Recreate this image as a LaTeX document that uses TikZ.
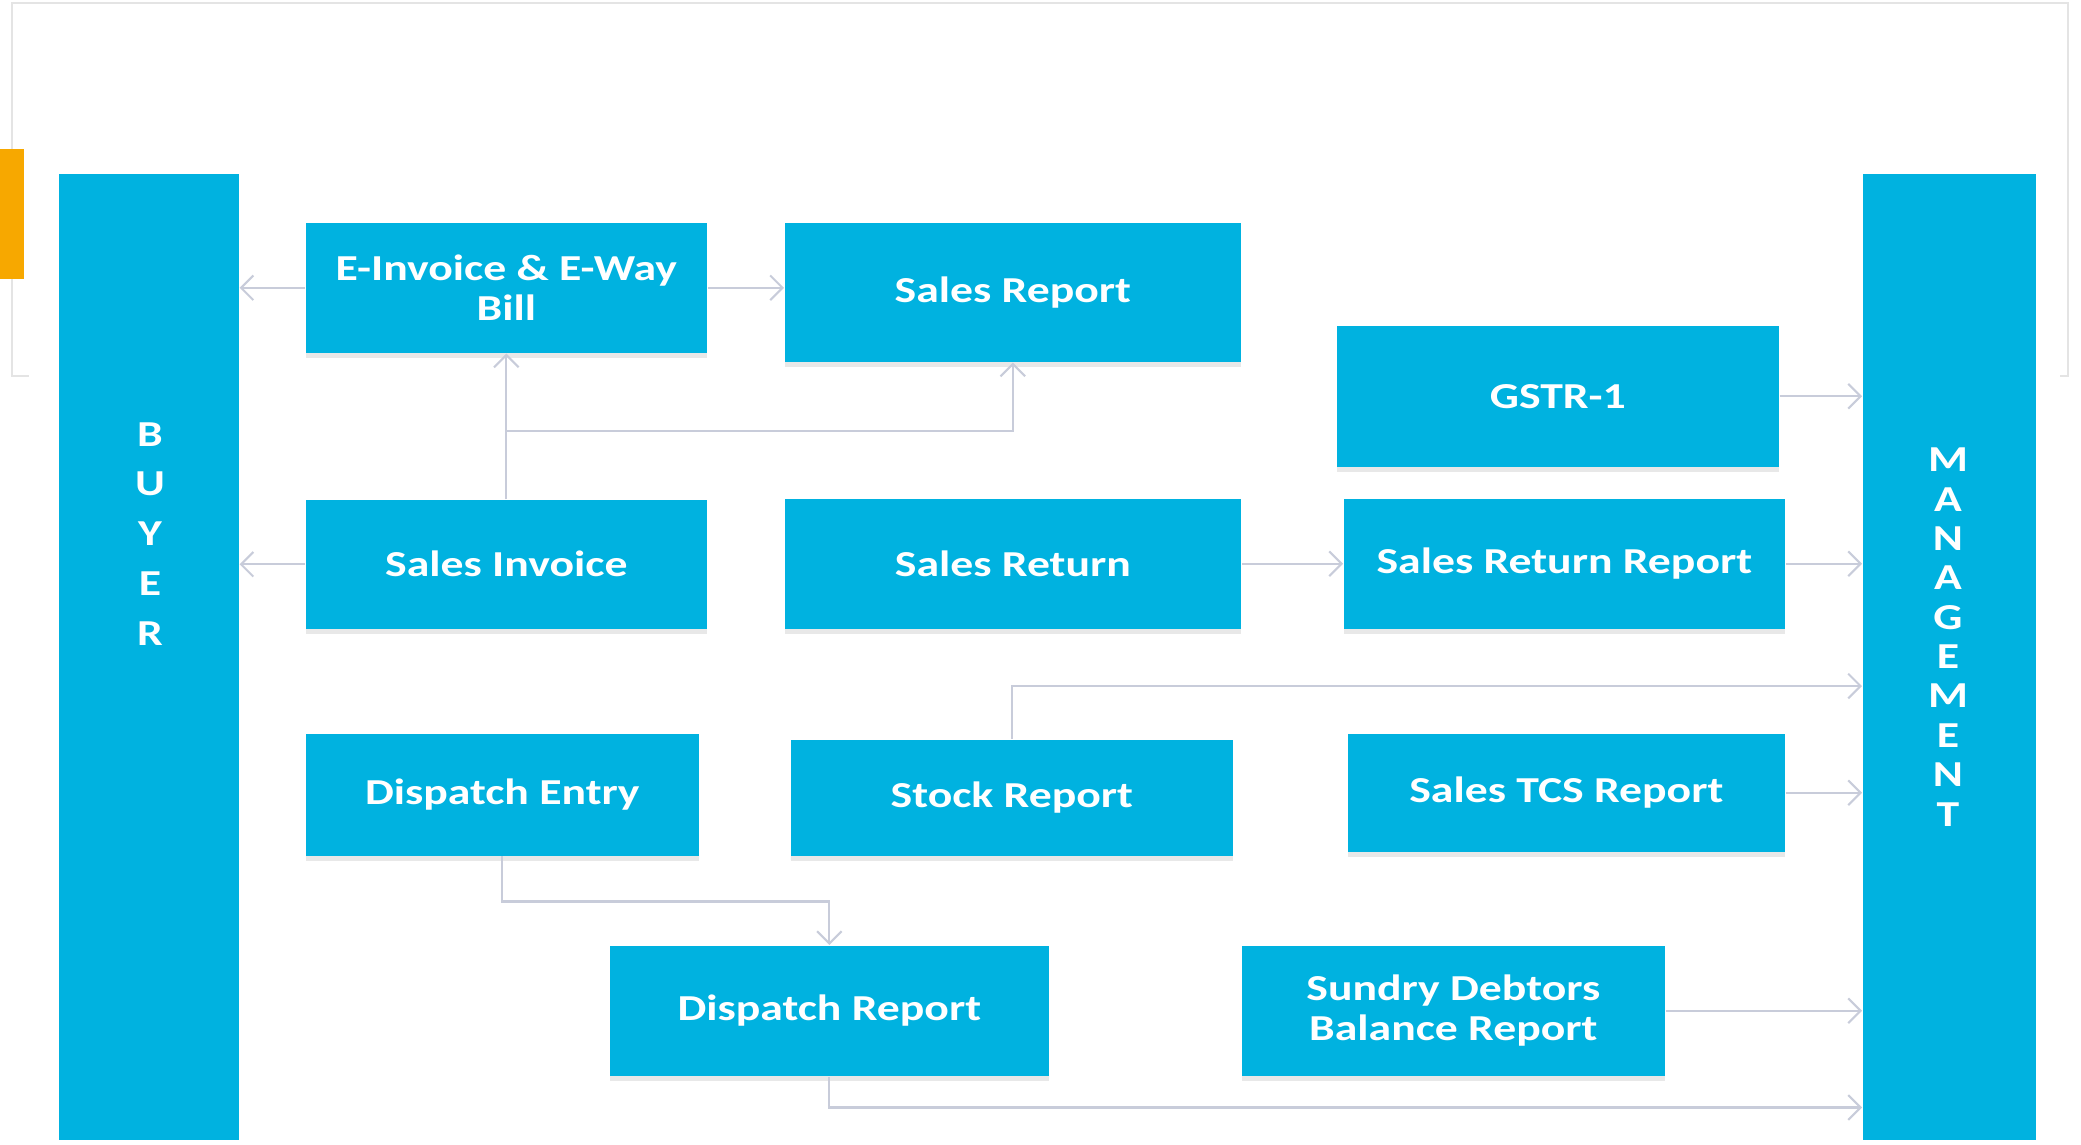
\documentclass[tikz,border=0pt]{standalone}
\usepackage{fontspec}
\newfontfamily\boxfont[FakeStretch=1.25]{Carlito}
\usetikzlibrary{arrows.meta,shadows}
\definecolor{boxblue}{RGB}{0,178,224}
\definecolor{linkgray}{RGB}{200,204,218}
\definecolor{slideorange}{RGB}{247,168,0}
\definecolor{framegray}{RGB}{228,228,228}
\begin{document}
\begin{tikzpicture}[x=0.01cm,y=-0.01cm,
	font=\boxfont\bfseries\fontsize{10.4}{11.5}\selectfont,
	box/.style={fill=boxblue,text=white,anchor=north west,inner sep=2pt,align=center,
		drop shadow={shadow xshift=0pt,shadow yshift=-1.6pt,opacity=0.18}},
	bar/.style={fill=boxblue,anchor=north west,inner sep=0pt,minimum width=#1},
	letters/.style={text=white,align=center,inner sep=0pt},
	link/.style={draw=linkgray,line width=0.6pt,-{Straight Barb[length=3.5pt,width=7pt]}}]
	\useasboundingbox (0,0) rectangle (2081,1144);
	% slide frame
	\draw[framegray,line width=0.5pt] (29,376) -- (12,376) -- (12,3) -- (2068,3) -- (2068,376) -- (2060,376);
	\fill[slideorange] (0,149) rectangle (24,279);
	% side bars
	\node[bar=1.80cm,minimum height=9.66cm] (buyer) at (58,173) {};
	\node[bar=1.73cm,minimum height=9.66cm] (mgmt) at (1862,173) {};
	\node[letters,font=\boxfont\bfseries\fontsize{10.4}{14.2}\selectfont] (buyerlbl) at (150,534) {B\\U\\Y\\E\\R};
	\node[letters,font=\boxfont\bfseries\fontsize{10.4}{11.2}\selectfont] (mgmtlbl) at (1948,637) {M\\A\\N\\A\\G\\E\\M\\E\\N\\T};
	% boxes
	\node[box,minimum width=4.01cm,minimum height=1.30cm] (einv) at (305,222) {E-Invoice \& E-Way\\Bill};
	\node[box,minimum width=4.56cm,minimum height=1.39cm] (srep) at (784,222) {Sales Report};
	\node[box,minimum width=4.42cm,minimum height=1.41cm] (gstr) at (1336,325) {GSTR-1};
	\node[box,minimum width=4.01cm,minimum height=1.29cm] (sinv) at (305,499) {Sales Invoice};
	\node[box,minimum width=4.56cm,minimum height=1.30cm] (sret) at (784,498) {Sales Return};
	\node[box,minimum width=4.41cm,minimum height=1.30cm] (srr) at (1343,498) {Sales Return Report};
	\node[box,minimum width=3.93cm,minimum height=1.22cm] (dent) at (305,733) {Dispatch Entry};
	\node[box,minimum width=4.42cm,minimum height=1.16cm] (stock) at (790,739) {Stock Report};
	\node[box,minimum width=4.37cm,minimum height=1.18cm] (tcs) at (1347,733) {Sales TCS Report};
	\node[box,minimum width=4.39cm,minimum height=1.30cm] (drep) at (609,945) {Dispatch Report};
	\node[box,minimum width=4.23cm,minimum height=1.30cm] (sdb) at (1241,945) {Sundry Debtors\\Balance Report};
	% links
	\draw[link] (einv.west) -- (einv.west -| buyer.east);
	\draw[link] (einv.east) -- (einv.east -| srep.west);
	\draw[link] (sinv.west) -- (sinv.west -| buyer.east);
	\draw[link] (sinv.north) -- (einv.south);
	\draw[link] (sinv.north) -- ++(0,-68) coordinate (j1) -| (srep.south);
	\draw[link] (gstr.east) -- (gstr.east -| mgmt.west);
	\draw[link] (sret.east) -- (srr.west);
	\draw[link] (srr.east) -- (srr.east -| mgmt.west);
	\draw[link] (stock.north) -- ++(0,-53) coordinate (s1) -- (s1 -| mgmt.west);
	\draw[link] (tcs.east) -- (tcs.east -| mgmt.west);
	\draw[link] (dent.south) -- ++(0,45) -| (drep.north);
	\draw[link] (sdb.east) -- (sdb.east -| mgmt.west);
	\draw[link] (drep.south) -- ++(0,31) coordinate (d1) -- (d1 -| mgmt.west);
\end{tikzpicture}
\end{document}
